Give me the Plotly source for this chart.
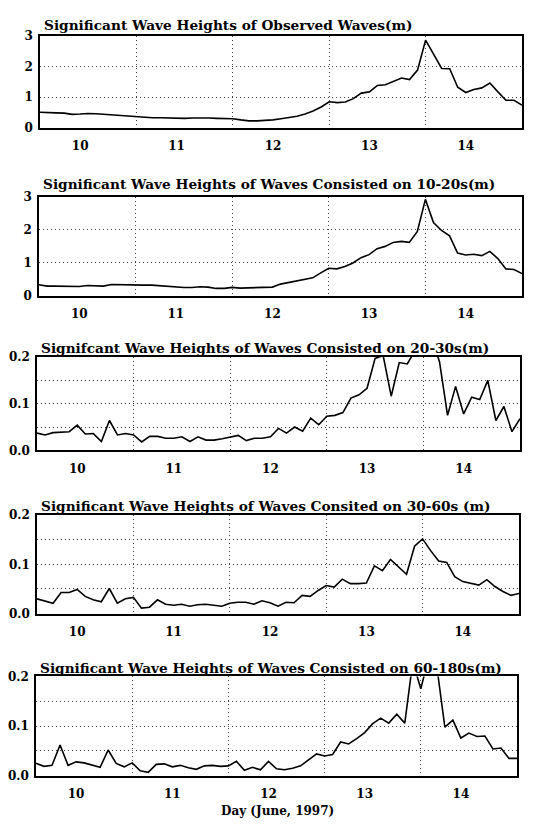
import plotly.graph_objects as go

# Sampling times: every 2 hours from 10 June 00:00 to 15 June 00:00 (day-of-month units)
hours = list(range(0, 121, 2))
day = [10 + h / 24 for h in hours]

# Significant wave heights (m)
observed = [0.51, 0.49, 0.49, 0.48, 0.44, 0.45, 0.47, 0.46, 0.44, 0.42,
            0.40, 0.39, 0.37, 0.34, 0.33, 0.33, 0.32, 0.32, 0.31, 0.32,
            0.33, 0.32, 0.31, 0.31, 0.30, 0.26, 0.23, 0.23, 0.24, 0.26,
            0.30, 0.34, 0.38, 0.45, 0.55, 0.68, 0.85, 0.82, 0.84, 0.95,
            1.13, 1.17, 1.38, 1.40, 1.52, 1.62, 1.57, 1.88, 2.85, 2.40,
            1.93, 1.92, 1.32, 1.15, 1.25, 1.30, 1.46, 1.17, 0.90, 0.90,
            0.74]

band_10_20 = [0.34, 0.30, 0.30, 0.30, 0.29, 0.29, 0.32, 0.32, 0.30, 0.35,
              0.34, 0.33, 0.33, 0.33, 0.33, 0.31, 0.28, 0.26, 0.26, 0.26,
              0.28, 0.27, 0.23, 0.23, 0.26, 0.24, 0.25, 0.26, 0.26, 0.27,
              0.36, 0.41, 0.44, 0.49, 0.55, 0.70, 0.84, 0.82, 0.89, 1.00,
              1.16, 1.25, 1.43, 1.50, 1.62, 1.65, 1.62, 1.95, 2.92, 2.22,
              1.98, 1.82, 1.30, 1.24, 1.26, 1.22, 1.35, 1.13, 0.82, 0.80,
              0.68]

band_20_30 = [0.037, 0.033, 0.038, 0.039, 0.040, 0.054, 0.035, 0.036, 0.019, 0.064,
              0.033, 0.036, 0.033, 0.018, 0.030, 0.030, 0.026, 0.026, 0.029, 0.019,
              0.029, 0.022, 0.022, 0.025, 0.028, 0.032, 0.021, 0.026, 0.026, 0.029,
              0.047, 0.037, 0.050, 0.041, 0.069, 0.055, 0.073, 0.075, 0.081, 0.112,
              0.119, 0.133, 0.197, 0.203, 0.116, 0.188, 0.185, 0.215, 0.260, 0.240,
              0.190, 0.075, 0.137, 0.078, 0.114, 0.109, 0.150, 0.064, 0.094, 0.040,
              0.068]

band_30_60 = [0.030, 0.026, 0.021, 0.043, 0.043, 0.049, 0.035, 0.028, 0.024, 0.051,
              0.021, 0.030, 0.033, 0.011, 0.013, 0.028, 0.019, 0.017, 0.019, 0.015,
              0.018, 0.019, 0.017, 0.015, 0.021, 0.023, 0.023, 0.019, 0.026, 0.022,
              0.015, 0.023, 0.022, 0.037, 0.035, 0.047, 0.057, 0.054, 0.070, 0.061,
              0.061, 0.062, 0.097, 0.087, 0.110, 0.094, 0.080, 0.137, 0.152, 0.128,
              0.107, 0.104, 0.075, 0.065, 0.061, 0.058, 0.069, 0.055, 0.045, 0.037,
              0.041]

band_60_180 = [0.025, 0.019, 0.021, 0.062, 0.021, 0.028, 0.026, 0.022, 0.017, 0.052,
               0.025, 0.018, 0.026, 0.010, 0.007, 0.023, 0.024, 0.018, 0.021, 0.016,
               0.013, 0.020, 0.021, 0.019, 0.020, 0.029, 0.011, 0.017, 0.012, 0.029,
               0.014, 0.012, 0.015, 0.020, 0.032, 0.044, 0.040, 0.043, 0.068, 0.064,
               0.075, 0.087, 0.105, 0.116, 0.106, 0.124, 0.106, 0.230, 0.175, 0.240,
               0.220, 0.098, 0.112, 0.076, 0.086, 0.079, 0.080, 0.054, 0.056, 0.035,
               0.035]

titles = [
    "Significant Wave Heights of Observed Waves(m)",
    "Significant Wave Heights of Waves Consisted on 10-20s(m)",
    "Signifcant Wave Heights of Waves Consisted on 20-30s(m)",
    "Significant Wave Heights of Waves Consited on 30-60s (m)",
    "Significant Wave Heights of Waves Consisted on 60-180s(m)",
]
series = [observed, band_10_20, band_20_30, band_30_60, band_60_180]

day_labels = ["10", "11", "12", "13", "14"]
day_label_pos = [d + 10 / 24 for d in (10, 11, 12, 13, 14)]
day_bounds = [11, 12, 13, 14]

big_ticks = [0, 1, 2, 3]
small_ticks = [0, 0.1, 0.2]
small_ticktext = ["0.0", "0.1", "0.2"]
small_grid = [0.05, 0.1, 0.15]

x_title = "Day (June, 1997)"

# ---- layout geometry (pixels) ----
W, H = 536, 828
# (left, right, top, bottom) of each panel frame
frames = [(40, 522, 29, 123), (39, 522, 193, 294), (37, 520, 356, 451),
          (37, 519, 517, 617), (36, 517, 681, 782)]
title_gap = [5, 7, 3, 3, 2]

FONT = "DejaVu Serif"
tick_font = dict(family=FONT, size=12, color="black", weight="bold")
grid_col = "#444444"
grid_dash = "1px,3px"

fig = go.Figure()
layout = dict(
    width=W, height=H,
    margin=dict(l=0, r=0, t=0, b=0),
    paper_bgcolor="white", plot_bgcolor="white",
    showlegend=False,
    annotations=[],
)

for n, (vals, title, (l, r, t, b)) in enumerate(zip(series, titles, frames), start=1):
    sfx = "" if n == 1 else str(n)
    fig.add_trace(go.Scatter(
        x=day, y=vals, mode="lines",
        line=dict(color="black", width=1.6),
        xaxis="x" + sfx, yaxis="y" + sfx,
        hoverinfo="skip",
    ))
    big = n <= 2
    layout["xaxis" + sfx] = dict(
        domain=[l / W, r / W], anchor="y" + sfx,
        range=[10, 15], tickmode="array",
        tickvals=day_label_pos, ticktext=day_labels,
        showgrid=False, zeroline=False, ticks="",
        tickfont=tick_font, ticklabelstandoff=6,
        showline=True, mirror=True, linecolor="black", linewidth=1.6,
        minor=dict(tickmode="array", tickvals=day_bounds, showgrid=True,
                   gridcolor=grid_col, griddash=grid_dash, gridwidth=1, ticks=""),
    )
    layout["yaxis" + sfx] = dict(
        domain=[1 - b / H, 1 - t / H], anchor="x" + sfx,
        range=[0, 3] if big else [0, 0.2],
        tickmode="array",
        tickvals=big_ticks if big else small_ticks,
        ticktext=[str(v) for v in big_ticks] if big else small_ticktext,
        showgrid=False, zeroline=False, ticks="",
        tickfont=tick_font, ticklabelstandoff=3,
        showline=True, mirror=True, linecolor="black", linewidth=1.6,
        minor=dict(tickmode="array", tickvals=[1, 2] if big else small_grid,
                   showgrid=True, gridcolor=grid_col, griddash=grid_dash,
                   gridwidth=1, ticks=""),
    )
    layout["annotations"].append(dict(
        text=title, xref="paper", yref="paper",
        x=(l + 2) / W, y=1 - t / H, xanchor="left", yanchor="bottom",
        yshift=title_gap[n - 1] - 4, showarrow=False,
        font=dict(family=FONT, size=13.7, color="black", weight="bold"),
    ))

layout["annotations"].append(dict(
    text=x_title, xref="paper", yref="paper",
    x=277 / W, y=1 - 818 / H, xanchor="center", yanchor="middle",
    showarrow=False, font=dict(family=FONT, size=12, color="black", weight="bold"),
))

fig.update_layout(**layout)
fig.write_html("out.html")
